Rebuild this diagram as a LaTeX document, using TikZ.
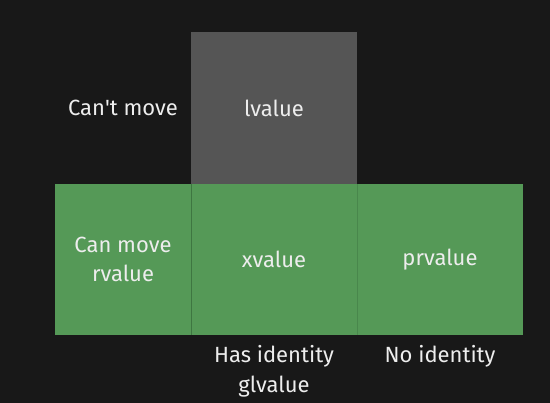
\documentclass[tikz,border=0pt]{standalone}
\usepackage{fontspec}
\setmainfont{Fira Sans}
\usetikzlibrary{positioning}
\definecolor{bgdark}{HTML}{181818}
\definecolor{cellgreen}{HTML}{559957}
\definecolor{cellline}{HTML}{3E7641}
\definecolor{cellgrey}{HTML}{555555}
\definecolor{labelwhite}{HTML}{EDEDED}
\tikzset{cell/.style={minimum height=151pt, inner sep=0pt, outer sep=0pt,
		text=labelwhite, align=center, font=\fontsize{22}{29}\selectfont},
	greencell/.style={cell, fill=cellgreen},
	greycell/.style={cell, fill=cellgrey, minimum height=152pt},
	axislabel/.style={inner sep=0pt, text=labelwhite, align=center,
		font=\fontsize{22}{30}\selectfont}}

\begin{document}
\begin{tikzpicture}[x=1pt, y=1pt]
				
				\fill[bgdark] (0,0) rectangle (550,-403);
				\useasboundingbox (0,0) rectangle (550,-403);
				
				\node[greycell, minimum width=166pt, anchor=north west] (lvalue) at (191,-32) {lvalue};
				\node[greencell, minimum width=166pt, anchor=north west] (xvalue) at (191,-184) {xvalue};
				\node[greencell, minimum width=136pt, left=0pt of xvalue] (canmove) {Can move\\rvalue};
				\node[greencell, minimum width=166pt, right=0pt of xvalue] (prvalue) {prvalue};
				
				% cell borders
				\draw[cellline, line width=1pt] (xvalue.north west) -- (xvalue.south west);
				\draw[cellline!50!cellgreen, line width=0.8pt] (xvalue.north east) -- (xvalue.south east);
				
				\node[axislabel] (cantmove) at (canmove |- lvalue) {Can\textquotesingle t move};
				\node[axislabel, anchor=north, below=10pt of xvalue] (identity) {Has identity\\glvalue};
				\node[axislabel, anchor=north, below=10pt of prvalue] (noidentity) {No identity};
								
				\end{tikzpicture}
\end{document}
